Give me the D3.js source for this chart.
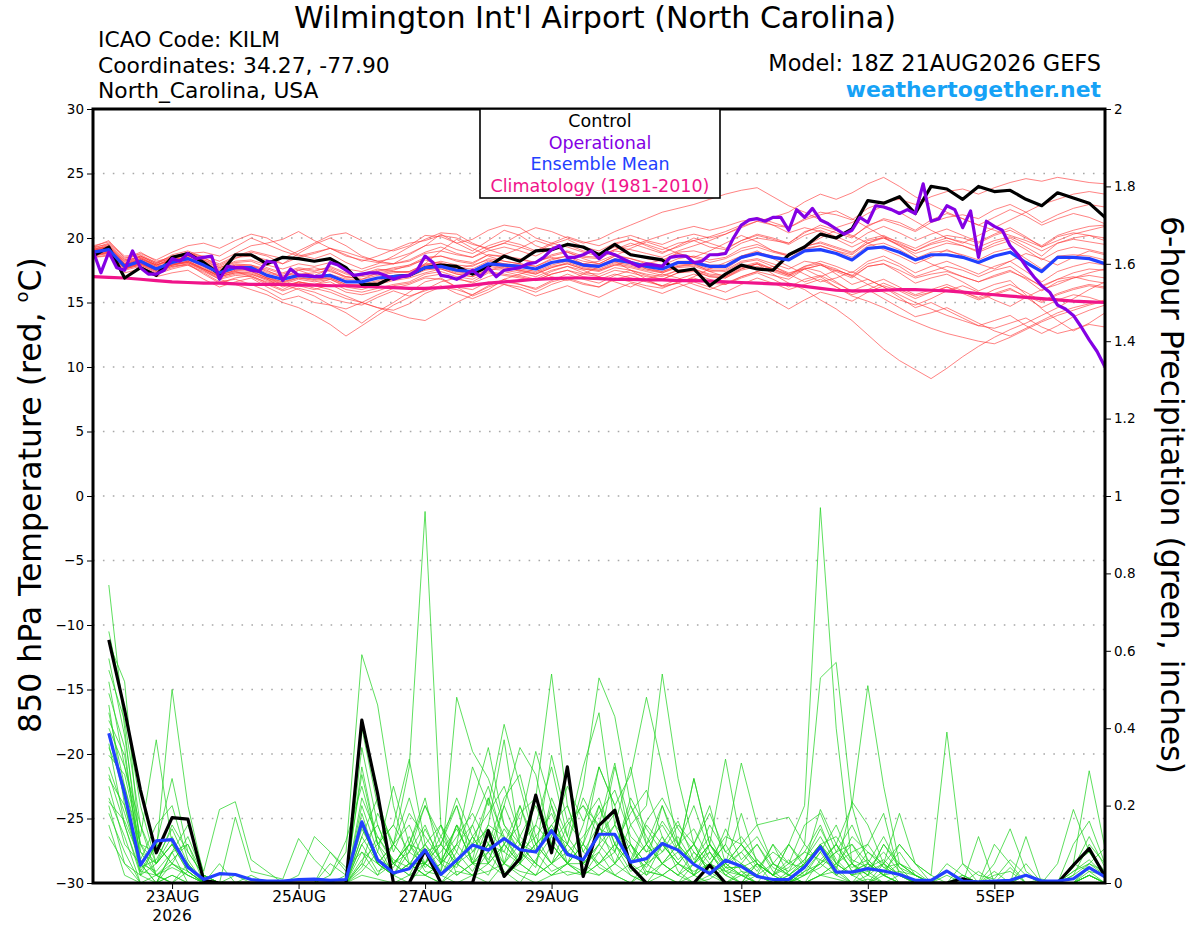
<!DOCTYPE html>
<html><head><meta charset="utf-8">
<script src="https://cdn.jsdelivr.net/npm/d3@7"></script>
<style>body{margin:0;background:#fff}svg text{font-family:"DejaVu Sans",sans-serif}</style>
</head><body><svg id="c" width="1200" height="927"></svg>
<script>
// ---------------- DATA ----------------
const runStartUTC = Date.UTC(2026,7,21,18);   // 18Z 21AUG2026
const forecastHours = 384;
const ensStepHours = 6;
const opStepHours = 3;
const xTickDates = [Date.UTC(2026,7,23),Date.UTC(2026,7,25),Date.UTC(2026,7,27),Date.UTC(2026,7,29),Date.UTC(2026,8,1),Date.UTC(2026,8,3),Date.UTC(2026,8,5)];
const xTickLabels = ["23AUG","25AUG","27AUG","29AUG","1SEP","3SEP","5SEP"];
const yearLabel = "2026";
const tempTicks = [30,25,20,15,10,5,0,-5,-10,-15,-20,-25,-30];
const precipTicks = [2,1.8,1.6,1.4,1.2,1,0.8,0.6,0.4,0.2,0];
const precipTickLabels = ["2","1.8","1.6","1.4","1.2","1","0.8","0.6","0.4","0.2","0"];
const legendLabels = ["Control","Operational","Ensemble Mean","Climatology (1981-2010)"];

const controlTemp = [18.6,19.3,16.9,17.7,17.1,18.5,18.8,18.1,17.2,18.7,18.7,
 18.0,18.5,18.4,18.2,18.4,17.7,16.4,16.4,17.0,17.1,
 17.7,17.9,17.8,17.2,17.8,18.6,18.2,19.0,19.1,19.5,
 19.3,18.7,19.5,18.7,18.5,18.3,17.4,17.6,16.3,17.2,
 17.9,17.6,17.5,18.7,19.3,20.3,20.0,20.7,22.9,22.7,
 23.2,21.9,24.0,23.8,23.0,24.0,23.6,23.7,23.0,22.5,
 23.5,23.1,22.7,21.6];
const meanTemp = [18.9,19.1,17.8,18.2,17.6,18.1,18.4,17.9,17.3,17.7,17.7,
 17.1,16.8,17.1,17.0,17.1,16.6,16.6,16.9,17.0,17.1,
 17.7,17.8,17.5,17.4,18.0,17.9,17.8,17.6,18.1,18.3,
 17.9,17.8,18.3,18.1,17.8,17.6,18.1,18.1,17.8,17.8,
 18.5,18.8,18.5,18.3,19.0,19.1,18.8,18.3,19.2,19.3,
 18.9,18.3,18.7,18.7,18.5,18.1,18.6,18.9,18.1,17.4,
 18.5,18.5,18.4,18.0];
const operationalTemp = [19.0,17.3,18.9,17.7,17.5,19.0,17.7,17.2,17.2,17.5,
 18.4,18.2,18.8,18.4,18.5,18.6,16.8,17.8,17.7,17.7,
 17.5,17.4,18.2,18.1,16.7,17.6,17.1,17.1,17.0,17.0,
 18.1,17.9,17.5,17.1,17.2,17.3,17.3,17.1,16.8,17.0,
 17.1,17.5,18.6,18.1,17.1,17.0,16.8,17.1,17.5,17.0,
 17.7,17.0,17.5,17.6,17.7,18.0,18.1,18.5,19.1,19.4,
 18.5,18.5,18.7,19.0,18.4,18.9,18.7,18.4,18.1,17.8,
 18.0,17.9,17.8,18.5,18.6,18.6,18.1,18.2,18.7,18.7,
 18.8,20.0,21.0,21.4,21.5,21.3,21.6,21.6,20.6,22.2,
 21.6,22.3,21.4,21.1,20.7,20.3,20.6,21.6,21.2,22.5,
 22.4,22.2,21.9,22.2,21.9,24.2,21.3,21.5,22.5,22.2,
 20.8,22.1,18.5,21.3,20.9,20.6,19.4,18.7,17.8,17.0,
 16.3,15.8,14.8,14.5,14.0,13.1,12.1,11.2,10.0];
const climatologyTemp = [17.0,16.95,16.9,16.8,16.7,16.6,16.55,16.5,16.5,16.45,16.4,
 16.4,16.4,16.35,16.35,16.3,16.3,16.25,16.2,16.15,16.1,
 16.1,16.15,16.25,16.35,16.5,16.6,16.7,16.8,16.85,16.9,16.9,
 16.85,16.8,16.8,16.75,16.75,16.7,16.7,16.65,16.6,16.55,16.5,16.45,16.4,
 16.25,16.1,15.95,15.9,15.9,15.95,16.0,16.0,
 15.95,15.9,15.8,15.7,15.6,15.5,15.4,15.3,15.2,15.1,15.05,15.0];

const controlPrecip = [.628,.447,.240,.078,.169,.165,.007,0,0,0,
 0,0,0,0,0,0,.421,.231,0,0,
 .085,0,0,0,.135,.017,.063,.227,.078,.300,
 .017,.149,.188,.043,0,0,0,0,.046,0,
 0,0,0,0,0,0,0,0,0,0,
 0,0,0,0,.011,0,0,0,0,0,
 0,.046,.089,.017];
const meanPrecip = [.387,.231,.046,.109,.112,.041,.009,.024,.022,.009,
 .005,.005,.009,.010,.007,.009,.158,.060,.026,.037,
 .085,.022,.059,.098,.085,.115,.086,.080,.135,.074,
 .060,.126,.126,.054,.063,.102,.085,.048,.024,.059,
 .043,.017,.009,.009,.041,.093,.028,.028,.037,.031,
 .022,.007,.007,.031,.005,.003,.005,.007,.020,.005,
 .005,.011,.040,.016];

const memberTemps = [
 [19.2,19.6,18.5,18.6,18.0,18.7,19.0,18.5,17.8,18.4,18.9, 18.6,18.0,18.8,19.5,20.0,19.4,18.6,18.2,18.0,18.7, 19.4,20.3,19.6,19.0,19.8,20.6,20.2,19.4,19.0,19.6, 19.2,18.8,19.5,19.9,19.4,18.9,19.3,19.8,20.1,20.5, 21.0,21.6,21.2,20.8,21.5,22.0,21.8,21.4,22.3,22.8, 23.0,22.6,23.2,23.6,23.8,23.4,23.9,24.3,24.6,24.4, 24.7,24.5,24.3,24.2],
 [18.8,19.0,17.6,18.0,17.5,17.9,18.2,17.6,17.0,17.3,17.2, 16.8,16.2,16.6,16.4,16.8,16.2,16.0,16.4,16.7,16.9, 17.3,17.6,17.2,17.0,17.5,17.8,17.4,17.2,17.7,18.0, 17.6,17.4,17.9,18.2,17.6,17.3,17.8,18.0,17.4,17.0, 17.6,18.0,17.2,16.5,16.0,15.2,14.5,13.6,12.5,11.4, 10.5,9.8,9.1,9.9,10.8,11.6,12.3,12.9,13.4,14.0, 14.6,15.3,16.0,16.6],
 [18.7,18.9,17.9,18.3,17.8,18.0,18.1,17.5,16.8,16.4,16.0, 15.6,15.0,14.6,14.0,13.3,12.4,13.2,14.0,14.8,15.4, 16.0,16.6,16.9,16.5,17.0,17.4,17.1,16.8,17.4,17.8, 17.5,17.0,16.6,16.2,16.8,17.2,16.9,16.4,16.0,16.5, 17.0,17.4,17.8,17.2,16.6,17.0,17.5,17.1,16.4,15.8, 15.2,14.8,15.3,15.9,16.3,15.8,15.2,14.7,15.4,16.0, 16.4,16.9,17.3,17.6],
 [19.0,19.3,18.2,18.5,17.9,18.3,18.5,18.0,17.5,17.8,17.4, 16.9,16.4,16.0,15.5,14.8,14.2,13.4,14.3,15.0,15.8, 16.6,16.9,16.2,15.5,16.0,16.8,17.2,17.6,17.0,16.7, 17.2,17.8,18.2,17.5,16.8,16.2,16.5,17.0,17.6,18.1, 18.6,19.0,18.4,17.8,17.2,16.6,16.9,17.4,16.8,16.2, 15.6,15.0,14.5,14.0,13.6,13.2,13.0,13.4,13.8,13.1, 12.6,12.9,13.3,13.1],
 [19.3,19.8,18.4,18.9,18.2,18.5,18.8,18.9,18.6,19.3,20.0, 19.5,19.0,18.6,18.9,19.2,18.7,18.2,18.6,19.1,19.6, 19.8,20.2,20.0,19.5,19.2,19.6,20.3,20.8,20.5,20.0, 19.6,19.9,20.5,21.0,21.5,22.0,22.3,22.6,23.0,23.4, 23.7,23.9,23.2,22.5,22.0,21.4,20.8,21.2,21.9,22.5, 22.0,21.3,20.6,20.0,19.6,20.2,20.8,21.4,22.0,22.6, 23.0,23.4,23.6,23.4],
 [18.5,18.7,17.5,17.8,17.2,17.6,17.9,17.4,16.8,17.1,17.0, 16.4,15.9,16.3,16.0,16.4,15.8,15.6,15.9,16.3,16.5, 17.0,17.2,16.8,16.6,17.3,17.1,16.9,16.7,17.2,17.5, 17.2,17.0,17.5,17.3,17.0,16.8,17.3,17.4,17.0,16.9, 17.5,17.8,17.4,17.0,17.6,17.9,17.4,16.9,17.8,18.0, 17.5,16.9,17.2,17.4,17.0,16.6,17.1,17.5,16.8,15.9, 16.6,16.9,17.1,16.9],
 [19.1,19.4,18.0,18.6,18.1,18.4,18.9,18.4,18.0,18.6,19.0, 18.7,18.4,19.0,19.6,20.2,20.4,19.8,19.2,19.0,19.4, 20.2,20.1,19.6,19.9,20.6,21.0,20.8,20.0,19.6,19.3, 18.9,18.6,19.1,19.6,19.2,18.8,19.4,20.0,19.6,19.2, 19.8,20.3,20.0,19.6,20.4,21.0,20.6,20.1,20.9,21.5, 21.2,20.6,21.4,21.9,21.5,21.0,21.6,22.2,21.7,21.0, 21.5,21.9,21.6,21.1],
 [18.6,18.8,17.6,17.9,17.4,17.8,18.0,17.2,16.5,16.9,17.1, 16.5,16.0,16.6,16.3,16.0,15.5,15.0,14.6,14.4,14.9, 15.7,16.2,16.0,15.6,16.3,16.8,16.4,16.0,16.6,16.9, 16.5,16.2,16.8,17.1,16.7,16.3,16.8,17.2,16.8,16.4, 16.9,17.3,16.8,16.2,16.8,17.1,16.5,15.9,16.4,16.8, 16.2,15.6,16.0,16.4,15.9,15.3,15.7,16.1,15.4,14.6, 15.2,15.6,15.4,15.0],
 [19.0,19.2,17.9,18.2,17.7,18.2,18.6,18.1,17.6,18.0,17.9, 17.6,17.2,17.6,17.4,17.8,17.3,17.1,17.5,17.6,17.8, 18.4,18.6,18.2,18.0,18.7,18.5,18.3,18.1,18.6,18.9, 18.5,18.4,19.0,18.8,18.4,18.2,18.9,19.0,18.7,18.9, 19.6,20.0,19.8,19.6,20.5,20.8,20.4,20.0,21.0,21.4, 21.0,20.5,21.2,21.6,21.8,21.5,22.2,22.6,22.0,21.2, 21.8,22.3,22.6,22.4],
 [18.9,19.1,17.8,18.1,17.5,18.2,18.3,17.8,17.2,17.6,17.8, 17.3,17.0,17.5,17.7,17.4,17.0,17.2,17.6,17.4,17.3, 17.9,18.2,17.9,17.8,18.4,18.2,18.0,17.8,18.4,18.6, 18.2,18.0,18.6,18.4,18.1,17.9,18.4,18.6,18.3,18.5, 19.2,19.5,19.0,18.7,19.4,19.6,19.2,18.8,19.8,20.0, 19.4,18.8,19.2,19.6,19.4,19.0,19.6,20.0,19.3,18.6, 19.6,20.0,20.2,20.0],
 [18.7,19.0,17.7,18.0,17.6,18.0,18.2,17.7,17.1,17.5,17.5, 16.9,16.6,16.9,16.7,16.9,16.4,16.4,16.7,17.0,17.0, 17.5,17.7,17.3,17.2,17.8,17.6,17.5,17.3,17.8,18.0, 17.6,17.5,18.0,17.8,17.5,17.3,17.7,17.8,17.4,17.5, 18.2,18.4,18.0,17.6,18.2,18.0,17.2,16.4,16.8,16.2, 15.4,14.6,15.0,14.4,13.8,13.2,13.6,14.0,13.2,12.6, 13.2,13.9,14.4,14.8],
 [19.2,19.3,18.1,18.4,17.8,18.3,18.6,18.2,17.4,17.9,17.9, 17.4,17.1,17.2,17.3,17.5,16.9,17.0,17.2,17.4,17.4, 18.0,18.1,17.7,17.6,18.2,18.0,17.9,17.6,18.1,18.4, 18.0,17.9,18.4,18.2,17.9,17.7,18.2,18.2,17.9,17.9, 18.6,18.9,18.6,18.4,19.2,19.4,19.0,18.5,19.4,19.6, 19.1,18.4,18.9,19.0,18.7,18.3,18.9,19.2,18.4,17.6, 18.6,18.7,18.6,18.3],
 [18.8,19.1,17.9,18.3,17.6,18.1,18.4,17.9,17.3,17.6,17.6, 17.0,16.6,17.0,16.8,16.9,16.4,16.3,16.6,16.8,17.2, 18.0,19.0,19.9,19.2,18.6,18.2,18.0,17.8,18.3,18.6, 18.0,17.8,18.2,18.0,17.7,17.4,17.9,18.0,17.6,17.6, 18.4,18.8,18.5,18.3,19.1,19.4,19.0,18.7,19.6,20.1, 19.7,19.2,19.8,20.2,20.0,19.6,20.2,20.6,20.0,19.4, 20.2,20.6,20.9,21.0],
 [18.9,19.0,17.7,18.0,17.4,17.8,17.9,17.3,16.6,16.8,16.4, 15.9,15.2,15.5,15.0,14.8,14.5,15.0,15.6,16.1,16.4, 16.9,16.8,16.2,16.0,16.6,16.4,16.2,15.8,16.4,16.8, 16.4,16.2,16.9,16.6,16.3,16.1,16.6,16.9,16.5,16.4, 17.0,17.4,17.1,16.8,17.6,17.9,17.5,17.1,18.0,18.3, 17.8,17.0,17.4,17.8,17.5,17.0,17.5,17.8,17.0,16.2, 16.8,17.3,17.6,17.5],
 [19.4,19.7,18.6,18.7,18.1,18.6,18.8,18.6,18.2,18.8,19.4, 19.6,19.9,20.5,19.8,19.2,18.6,18.3,18.1,18.0,18.3, 18.9,19.3,18.8,18.5,19.2,19.6,19.3,18.9,19.5,19.9, 19.3,19.0,19.6,19.9,19.5,19.1,19.6,19.8,19.3,19.1, 19.8,20.2,19.9,19.5,20.2,20.6,20.1,19.6,20.4,20.9, 20.4,19.8,20.3,20.7,20.2,19.7,20.3,20.8,20.1,19.3, 20.1,20.4,20.2,19.8],
 [18.6,18.9,17.6,18.1,17.5,17.9,18.2,17.6,17.0,17.4,17.3, 16.8,16.4,16.8,16.6,16.8,16.3,16.2,16.5,16.8,17.0, 17.6,17.6,17.2,17.0,17.6,17.5,17.3,17.0,17.5,17.8, 17.3,17.2,17.7,17.5,17.2,17.0,17.5,17.6,17.2,17.1, 17.8,18.1,17.6,17.1,17.7,17.4,16.6,15.8,16.0,15.3, 14.6,13.9,14.2,14.6,14.0,13.4,12.8,12.4,13.0,13.6, 14.2,14.6,14.9,15.2],
 [19.0,19.3,18.0,18.4,17.9,18.4,18.7,18.2,17.7,18.2,18.3, 17.9,17.6,18.0,17.8,18.1,17.6,17.4,17.8,18.0,18.2, 18.8,19.0,18.7,18.5,19.0,19.3,19.0,18.6,19.2,19.5, 19.0,18.8,19.3,19.1,18.8,18.5,19.0,19.4,19.8,20.3, 20.8,21.3,21.6,22.0,22.8,23.4,23.0,23.5,24.2,24.7, 24.0,23.2,22.6,22.0,21.5,21.0,20.6,20.2,19.8,19.3, 19.8,20.3,20.6,20.9],
 [18.7,18.8,17.6,17.9,17.3,17.7,18.0,17.5,16.9,17.2,17.2, 16.7,16.3,16.6,16.4,16.6,16.0,15.8,16.1,16.4,16.6, 17.2,17.4,17.0,16.8,17.4,17.2,17.0,16.7,17.2,17.5, 17.0,16.8,17.2,16.9,16.6,16.3,16.5,16.0,15.6,15.2, 15.6,15.9,15.2,14.5,15.2,15.8,15.5,15.1,15.8,16.3, 15.9,15.3,15.8,16.2,15.8,15.4,16.0,16.4,15.8,15.1, 15.7,16.1,16.4,16.2],
 [19.1,19.5,18.3,18.5,17.9,18.4,18.7,18.3,17.7,18.1,18.2, 17.7,17.3,17.7,17.5,17.7,17.2,17.1,17.4,17.7,17.9, 18.5,18.6,18.3,18.1,18.7,18.6,18.4,18.1,18.7,19.0, 18.6,18.5,19.1,19.4,19.8,20.2,20.6,20.9,20.6,20.9, 21.3,21.5,21.0,20.4,20.8,20.5,19.9,19.3,19.9,20.2, 19.6,19.0,19.5,19.8,19.4,18.9,19.4,19.8,19.1,18.3, 19.0,19.3,19.1,18.8],
 [18.8,19.0,17.8,18.1,17.6,17.9,18.1,17.6,17.0,17.3,17.4, 16.9,16.5,16.9,16.8,17.0,16.6,16.6,16.9,17.1,17.2, 17.7,17.8,17.4,17.2,17.9,17.7,17.5,17.2,17.7,18.1, 17.7,17.5,17.9,17.7,17.4,17.1,17.5,17.6,17.1,17.0, 17.7,18.0,17.6,17.2,17.8,18.0,17.6,17.0,17.8,18.0, 17.3,16.5,16.9,17.2,16.6,15.9,16.4,16.7,15.6,14.5, 13.6,12.8,13.4,14.2],
 [19.3,19.5,18.3,18.8,18.3,18.9,19.4,19.6,19.2,19.8,20.3, 20.0,19.3,18.7,18.4,18.8,18.1,17.6,18.0,18.6,19.3, 19.9,20.4,20.3,19.6,19.1,18.7,19.2,19.8,19.4,18.9, 18.4,18.0,18.6,19.2,19.7,19.3,18.8,18.5,19.0,19.6, 20.2,19.7,19.0,18.6,19.3,20.0,20.6,20.2,19.6,19.1, 18.6,18.0,18.5,19.1,18.6,18.0,17.6,18.2,18.8,18.4, 17.9,18.5,19.0,18.7],
 [18.5,18.6,17.3,17.6,17.0,17.3,17.5,16.8,16.2,16.6,16.9, 16.2,15.6,16.1,15.8,15.3,15.0,14.8,15.4,15.9,15.5, 15.9,16.3,15.7,15.3,15.8,16.4,16.0,15.5,15.9,16.3, 15.8,15.4,16.0,16.5,16.1,15.7,16.2,16.6,16.2,15.8, 16.4,16.9,16.5,16.0,16.4,16.8,16.2,15.6,16.0,16.5, 16.0,15.5,15.8,16.2,15.7,15.2,15.6,16.0,15.5,15.0, 15.6,16.0,16.3,16.1],
 [18.9,19.2,18.0,18.3,17.7,18.1,18.3,17.8,17.2,17.4,17.0, 16.6,16.3,16.5,16.1,15.8,15.3,15.0,14.6,14.2,13.8, 13.6,14.3,15.0,15.6,16.2,16.6,16.4,16.1,16.7,17.2, 16.8,16.5,17.1,17.5,17.1,16.8,17.3,17.5,17.0,16.9, 17.6,18.0,17.5,17.1,17.8,18.2,17.8,17.3,18.2,18.6, 18.0,17.3,17.8,18.2,17.7,17.2,17.8,18.2,17.4,16.6, 17.4,17.8,18.1,17.9],
 [19.0,19.4,18.2,18.6,18.0,18.5,18.9,18.3,17.9,18.5,18.6, 18.3,18.0,18.5,18.8,19.2,18.9,18.5,18.2,18.4,18.8, 19.4,19.6,19.1,18.8,19.4,19.8,19.5,19.0,19.6,20.1, 19.7,19.4,19.9,20.2,19.8,19.5,20.0,20.3,20.0,20.3, 20.9,21.3,21.0,20.8,21.4,21.8,22.1,21.5,20.8,20.1, 19.4,18.6,18.0,17.5,17.0,16.6,17.0,17.4,16.9,16.3, 16.8,17.0,16.7,16.5],
 [18.7,18.9,17.7,18.0,17.5,17.9,18.1,17.6,17.1,17.5,17.6, 17.1,16.8,17.2,17.0,17.2,16.8,16.8,17.1,17.3,17.4, 17.9,18.0,17.6,17.4,18.0,17.8,17.6,17.4,17.9,18.2, 17.8,17.6,18.1,17.9,17.6,17.4,17.8,17.9,17.5,17.4, 18.1,18.3,17.8,17.3,17.6,17.0,16.2,15.5,15.1,14.6, 14.0,13.5,13.0,12.6,12.3,12.0,11.8,12.3,12.9,13.5, 14.0,14.4,14.8,15.1],
 [19.1,19.2,17.9,18.4,17.9,18.3,18.5,17.9,17.5,17.9,17.8, 17.5,16.9,17.5,17.1,17.6,17.0,16.8,17.3,17.5,17.9, 18.3,18.0,17.6,17.9,18.3,18.0,17.8,18.2,18.5,18.2, 18.0,18.2,18.7,18.4,18.0,18.3,18.8,18.5,18.1,18.4, 19.0,19.3,18.9,18.6,19.3,19.7,19.3,18.9,19.6,20.0, 19.5,19.0,19.6,20.0,19.7,19.3,19.8,20.1,19.6,19.0, 19.6,19.9,19.7,19.5]
];

const memberPrecips = [
 [.77,.40,.05,0,.02,0,0,0,0,0, 0,0,0,0,0,.02,.15,.05,.10,.30, .96,.15,.02,.05,.10,.03,0,.06,.12,.05, .10,.20,.08,.02,0,.05,.10,.02,0,0, .03,0,0,.02,.05,.10,.04,0,.02,0, 0,0,0,0,.01,0,0,0,0,0, 0,.03,.06,.02],
 [.65,.45,.20,.05,.10,.03,0,0,0,0, 0,0,0,0,.02,.08,.59,.46,.20,.05, .02,0,.05,.15,.25,.10,.05,.02,.10,.05, .02,.08,.15,.30,.10,.05,.02,0,.01,.04, .02,0,0,.03,.10,.53,.57,.20,.05,.02, 0,0,0,.03,0,0,0,0,0,0, 0,0,.02,0],
 [.62,.52,.08,.02,0,.03,0,0,0,0, 0,0,0,0,0,0,.30,.10,.02,.05, .10,.03,.15,.05,.02,.10,.20,.08,.03,.05, .10,.04,.02,0,.05,.12,.03,0,.02,.05, .18,.05,.02,.10,.20,.97,.40,.05,.02,.10, .04,0,0,0,.02,0,0,0,0,.01, 0,.05,.08,.03],
 [.58,.38,.10,.08,.50,.20,.02,0,0,0, 0,0,0,0,0,0,.10,.15,.05,.02, .05,.10,.20,.08,.15,.12,.05,.22,.54,.20, .08,.15,.05,.10,.03,.02,0,.05,.10,.03, 0,0,.05,.02,0,.06,.10,.20,.51,.25, .05,.02,0,0,0,.03,0,0,0,0, 0,0,0,0],
 [.52,.30,.12,.37,.10,.05,0,0,.02,0, 0,0,0,0,0,0,.20,.08,.25,.10, .05,.15,.08,.20,.35,.15,.08,.12,.05,.10, .25,.53,.43,.20,.10,.05,.02,.08,.03,0, 0,.02,0,0,.05,.10,.03,0,0,.05, .02,0,0,0,0,0,.05,.14,.03,0, 0,.02,.10,.05],
 [.49,.35,.03,.10,.27,.08,.02,0,0,0, 0,0,0,0,0,0,.35,.15,.05,.10, .22,.05,.10,.30,.20,.41,.25,.10,.15,.08, .05,.10,.30,.15,.20,.54,.27,.10,.02,.05, .02,0,0,0,.02,.08,.15,.05,0,.03, .08,.02,0,0,0,0,0,0,.02,0, 0,0,.05,.02],
 [.46,.20,.05,0,.08,.15,.03,.19,.21,.06, .03,0,0,0,0,0,.12,.05,.10,.22, .08,.03,.48,.34,.27,.15,.10,.05,.20,.05, .15,.30,.20,.28,.48,.30,.10,.05,.15,.08, .05,.10,.03,0,.02,.05,.10,.03,.05,.02, 0,0,0,0,0,0,0,0,0,0, 0,.05,.29,.09],
 [.44,.25,.08,.05,.10,.03,0,0,.17,.03, .02,.01,.115,.06,.02,.11,.25,.10,.05,.02, .10,.15,.05,.02,.08,.20,.35,.28,.10,.05, .03,.10,.15,.05,.10,.20,.08,.27,.10,.05, .10,.05,.02,.05,.15,.18,.08,.10,.05,.02, .03,0,0,0,0,0,0,0,0,0, 0,.10,.16,.05],
 [.40,.30,.15,.02,.05,.02,0,0,0,0, 0,0,.02,.12,.08,.03,.15,.05,.02,.08, .15,.05,.10,.15,.05,.10,.15,.34,.20,.10, .05,.20,.10,.05,.15,.10,.05,.02,.10,.32, .10,.05,0,0,.03,.08,.02,0,.05,.02, .10,.05,.02,.39,.05,0,0,0,0,0, 0,0,0,0],
 [.38,.22,.02,.10,.05,.12,.02,0,0,0, 0,0,0,0,.08,.04,.08,.02,.10,.05, .05,.12,.20,.05,.15,.37,.10,.15,.30,.12, .30,.44,.15,.10,.05,.08,.15,.10,.05,.10, .31,.15,.05,.02,0,.02,.05,.10,.03,0, .02,0,0,0,0,0,0,0,0,0, 0,0,.02,0],
 [.36,.15,.03,.02,0,.05,0,.05,0,.02, 0,0,0,0,0,0,.05,.18,.10,.05, .02,.05,.15,.10,.22,.05,.12,.08,.33,.16, .10,.30,.20,.05,.10,.15,.08,.27,.10,.05, .08,.03,.10,.02,.05,.02,.03,.21,.15,.05, .18,.05,0,.02,0,0,.03,0,.12,0, 0,0,.02,0],
 [.33,.28,.10,.05,.15,.08,.02,0,0,0, 0,0,0,0,0,0,.40,.20,.10,.15, .05,.02,.08,.03,.10,.05,.20,.10,.05,.15, .20,.15,.31,.10,.05,.20,.10,.05,.08,.02, 0,.05,.02,.10,.05,.19,.10,.05,.02,.10, .05,.02,0,0,.02,0,.10,.05,0,0, 0,.02,.05,.03],
 [.30,.18,.05,.03,.08,.10,0,0,0,0, 0,0,0,0,.05,.02,.28,.10,.15,.32, .10,.05,.15,.05,.10,.08,.05,.15,.10,.05, .05,.10,.05,.15,.08,.10,.05,.10,.20,.05, .10,.15,.16,.17,.10,.05,.08,.15,.06,.02, .05,.03,0,.05,.02,0,0,0,0,0, 0,.05,.03,0],
 [.28,.15,.02,.05,.10,.05,0,0,0,0, 0,0,0,0,0,0,.18,.05,.02,.05, .05,.10,.05,.12,.05,.20,.10,.08,.15,.20, .08,.05,.10,.05,.02,.10,.05,.03,.05,.10, .03,.02,.05,.10,.04,.10,.02,.05,.10,.18, .02,0,0,0,0,.12,0,0,.05,0, 0,0,0,0],
 [.25,.10,.05,.10,.05,.02,0,0,0,0, 0,0,0,0,0,0,.10,.03,.05,.10, .20,.10,.05,.08,.12,.05,.10,.05,.02,.05, .10,.05,.08,.20,.12,.05,.10,.20,.08,.03, .05,.02,.10,.05,.08,.15,.05,.02,.03,.05, .10,.05,.02,0,0,0,0,0,0,0, 0,0,.02,0],
 [.22,.12,0,0,.05,.03,0,0,0,0, 0,0,0,0,0,0,.05,.02,.05,.08, .05,.02,.10,.05,.08,.02,.05,.10,.05,.08, .05,.02,.05,.10,.02,.05,.08,.02,.05,.02, 0,.05,.02,0,.05,.10,.05,.02,.08,.05, 0,0,0,0,0,0,0,.04,0,0, 0,0,.02,0],
 [.20,.05,.02,0,.08,0,0,0,0,0, 0,0,0,0,0,0,.08,.05,.02,.05, .02,.05,.02,.05,.05,.10,.05,.02,.05,.10, .05,.08,.02,.05,.10,.05,.02,.05,.10,.05, .02,.02,0,.02,.02,.05,.10,.03,.05,.12, .04,.02,0,0,.05,.02,.01,.06,.02,0, .05,.19,.08,.02],
 [.18,.08,0,.02,0,0,0,0,0,0, 0,0,0,0,0,0,.15,.05,.02,0, .05,.02,0,.02,.05,.02,.08,.05,.02,.05, .02,.05,.10,.03,.05,.02,.05,.02,.08,.02, .05,.02,0,0,.03,.05,.02,.05,.02,.05, .02,0,0,0,0,0,0,0,.02,0, 0,0,0,0],
 [.15,.02,0,0,.02,0,0,0,0,0, 0,0,0,0,0,0,.03,.08,.02,.10, .03,.02,.05,.02,.03,.05,.03,.02,.05,.02, .03,.02,.05,.02,0,.02,.05,.10,.02,0, .02,.05,.02,0,0,.02,.05,.02,0,.02, 0,0,0,0,0,0,0,0,0,0, 0,0,0,0],
 [.12,.05,0,0,0,0,0,0,0,0, 0,0,0,0,0,0,.02,.01,0,.02, .02,0,.03,.02,0,.05,.02,0,.02,.03, .02,.05,.02,0,.03,.02,0,.02,.05,.03, .02,0,0,.01,0,.02,.01,0,.01,0, 0,0,0,0,0,0,0,0,0,0, 0,.03,.05,.09],
 [.55,.42,.15,.05,.12,.04,0,0,0,0, 0,0,0,0,0,0,.22,.12,.05,.10, .08,.10,.22,.12,.18,.25,.12,.20,.10,.16, .20,.12,.08,.22,.14,.08,.12,.05,.10,.04, .08,.12,.05,.03,.06,.12,.05,.08,.10,.04, .02,0,0,0,0,0,0,0,0,0, 0,.04,.12,.04],
 [.42,.33,.06,.15,.20,.06,0,0,0,0, 0,0,0,0,0,0,.12,.22,.08,.18, .12,.06,.12,.18,.10,.22,.28,.12,.18,.08, .12,.18,.24,.12,.08,.16,.10,.14,.06,.12, .10,.04,.08,.05,.04,.10,.12,.06,.04,.08, .03,.02,0,0,0,0,0,0,0,0, 0,0,.04,.02],
 [.35,.25,.10,.02,.06,.10,.02,0,0,0, 0,0,0,0,0,0,.06,.10,.15,.08, .20,.12,.06,.10,.14,.08,.18,.22,.12,.25, .16,.22,.10,.18,.24,.12,.06,.10,.18,.08, .12,.06,.02,.04,.08,.06,.04,.12,.08,.04, .05,.02,0,0,0,0,0,0,0,0, 0,0,0,0],
 [.27,.20,.04,.06,.14,.05,0,0,0,0, 0,0,0,0,0,0,.14,.06,.04,.12, .04,.08,.14,.06,.22,.12,.06,.10,.14,.10, .22,.14,.12,.06,.16,.22,.14,.08,.04,.14, .06,.10,.04,.02,.06,.14,.06,.02,.04,.06, .02,0,0,0,0,0,.02,.03,0,0, 0,0,0,0],
 [.21,.16,.06,.02,.04,.02,0,0,0,0, 0,0,0,0,0,0,.04,.12,.06,.04, .14,.06,.04,.12,.06,.14,.08,.04,.22,.12, .06,.12,.18,.08,.04,.10,.16,.06,.12,.04, .04,.06,.02,.06,.02,.04,.08,.04,.06,.02, 0,0,0,0,0,0,0,0,0,0, 0,0,.03,.02]
];

// ---------------- DRAW ----------------
const svg = d3.select("#c");
const L=93, R=1105, T=109, B=883;
const hr = 3600e3;
const x = d3.scaleUtc().domain([new Date(runStartUTC), new Date(runStartUTC+forecastHours*hr)]).range([L,R]);
const yT = d3.scaleLinear().domain([-30,30]).range([B,T]);
const yP = d3.scaleLinear().domain([0,2]).range([B,T]);
const tAt = (i,step,offset=0)=> new Date(runStartUTC + (i+offset)*step*hr);

svg.append("rect").attr("width",1200).attr("height",927).attr("fill","#fff");
svg.append("defs").append("clipPath").attr("id","pc").append("rect")
  .attr("x",L).attr("y",T).attr("width",R-L).attr("height",B-T);

// grid
svg.append("g").selectAll("line").data(tempTicks.filter(d=>d>-30&&d<30)).join("line")
  .attr("x1",L).attr("x2",R).attr("y1",d=>yT(d)).attr("y2",d=>yT(d))
  .attr("stroke","#a8a8a8").attr("stroke-width",1.6).attr("stroke-dasharray","1.6,8.3");

const plot = svg.append("g").attr("clip-path","url(#pc)");
const tLine = step=> d3.line().x((d,i)=>x(tAt(i,step))).y(d=>yT(d));
const pLine = d3.line().x((d,i)=>x(tAt(i,ensStepHours,1))).y(d=>yP(d));

plot.append("g").selectAll("path").data(memberTemps).join("path")
  .attr("d",tLine(ensStepHours)).attr("fill","none").attr("stroke","#ff3a3a")
  .attr("stroke-width",0.8).attr("stroke-opacity",0.8);
plot.append("g").selectAll("path").data(memberPrecips).join("path")
  .attr("d",pLine).attr("fill","none").attr("stroke","#1ed21e")
  .attr("stroke-width",0.8).attr("stroke-opacity",0.9);

plot.append("path").datum(climatologyTemp).attr("d",tLine(ensStepHours))
  .attr("fill","none").attr("stroke","#f0148a").attr("stroke-width",3.2);
plot.append("path").datum(controlTemp).attr("d",tLine(ensStepHours))
  .attr("fill","none").attr("stroke","#000").attr("stroke-width",3.2).attr("stroke-linejoin","round");
plot.append("path").datum(controlPrecip).attr("d",pLine)
  .attr("fill","none").attr("stroke","#000").attr("stroke-width",3.2).attr("stroke-linejoin","round");
plot.append("path").datum(meanTemp).attr("d",tLine(ensStepHours))
  .attr("fill","none").attr("stroke","#2240ff").attr("stroke-width",3.2).attr("stroke-linejoin","round");
plot.append("path").datum(meanPrecip).attr("d",pLine)
  .attr("fill","none").attr("stroke","#2240ff").attr("stroke-width",3.2).attr("stroke-linejoin","round");
plot.append("path").datum(operationalTemp).attr("d",tLine(opStepHours))
  .attr("fill","none").attr("stroke","#8400e4").attr("stroke-width",3.2).attr("stroke-linejoin","round");

// axes
const axL = svg.append("g").attr("transform",`translate(${L},0)`)
  .call(d3.axisLeft(yT).tickValues(tempTicks).tickSize(6).tickPadding(3).tickFormat(d3.format("d")));
const axR = svg.append("g").attr("transform",`translate(${R},0)`)
  .call(d3.axisRight(yP).tickValues(precipTicks).tickSize(6).tickPadding(3).tickFormat((d,i)=>precipTickLabels[i]));
const axB = svg.append("g").attr("transform",`translate(0,${B})`)
  .call(d3.axisBottom(x).tickValues(xTickDates.map(d=>new Date(d))).tickSize(6).tickPadding(2).tickFormat((d,i)=>xTickLabels[i]));
[axL,axR,axB].forEach(a=>{a.select(".domain").remove();
  a.selectAll("line").attr("stroke","#000").attr("stroke-width",1);
  a.selectAll("text").attr("font-family","DejaVu Sans").attr("font-size",13.5).attr("fill","#000");});
axB.selectAll("text").attr("font-size",15.5);
svg.append("text").attr("x",x(new Date(xTickDates[0]))).attr("y",921).attr("text-anchor","middle")
  .attr("font-size",15.5).text(yearLabel);

// frame
svg.append("rect").attr("x",L).attr("y",T).attr("width",R-L).attr("height",B-T)
  .attr("fill","none").attr("stroke","#000").attr("stroke-width",3);

// legend
const lg = svg.append("g");
lg.append("rect").attr("x",480).attr("y",T).attr("width",240).attr("height",89)
  .attr("fill","#fff").attr("stroke","#000").attr("stroke-width",1.6);
const legColors = ["#000","#8400e4","#2240ff","#f0148a"];
lg.selectAll("text").data(legendLabels).join("text")
  .attr("x",600).attr("y",(d,i)=>127+i*21.5).attr("text-anchor","middle")
  .attr("font-size",17.5).attr("fill",(d,i)=>legColors[i]).text(d=>d);

// header texts
svg.append("text").attr("x",595).attr("y",28).attr("text-anchor","middle").attr("font-size",30.2)
  .text("Wilmington Int'l Airport (North Carolina)");
[["ICAO Code: KILM",47],["Coordinates: 34.27, -77.90",73],["North_Carolina, USA",98]].forEach(([t,yy])=>
  svg.append("text").attr("x",98).attr("y",yy).attr("font-size",21.8).text(t));
svg.append("text").attr("x",1101).attr("y",71).attr("text-anchor","end").attr("font-size",22.4)
  .text("Model: 18Z 21AUG2026 GEFS");
svg.append("text").attr("x",1101).attr("y",97).attr("text-anchor","end").attr("font-size",21.9)
  .attr("font-weight","bold").attr("fill","#16a2f6").text("weathertogether.net");

// axis titles
const lt = svg.append("text").attr("transform","translate(41,495) rotate(-90)")
  .attr("text-anchor","middle").attr("font-size",31.5);
lt.append("tspan").text("850 hPa Temperature (red, ");
lt.append("tspan").attr("font-size",18).attr("dy",-13).text("o");
lt.append("tspan").attr("dy",13).text("C)");
svg.append("text").attr("transform","translate(1161,495) rotate(90)")
  .attr("text-anchor","middle").attr("font-size",31.5).text("6-hour Precipitation (green, inches)");
</script></body></html>
